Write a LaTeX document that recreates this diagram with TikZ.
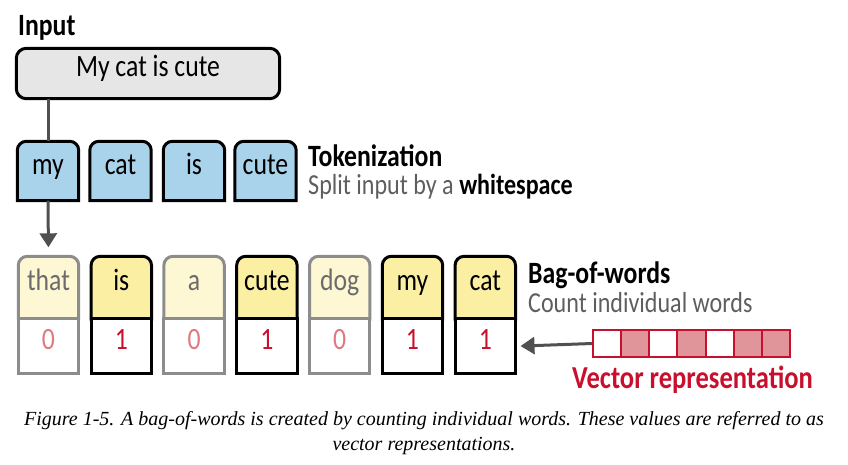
\documentclass[tikz,border=0pt]{standalone}
\usepackage{fontspec}
\setmainfont{Carlito}[FakeStretch=0.83]
\newfontfamily\capfont{Liberation Serif}
\usetikzlibrary{arrows.meta, positioning, backgrounds}

\definecolor{inputgray}{HTML}{E6E6E6}
\definecolor{tokblue}{HTML}{A9D2EB}
\definecolor{bagyellow}{HTML}{FBEFA3}
\definecolor{bagpale}{HTML}{FDF7D3}
\definecolor{zerogray}{HTML}{8C8C8C}
\definecolor{zerotext}{HTML}{6B6B6B}
\definecolor{subgray}{HTML}{5E5E5E}
\definecolor{vecred}{HTML}{C8102E}
\definecolor{zerored}{HTML}{E0797F}
\definecolor{vecpink}{HTML}{E0959B}
\definecolor{arrgray}{HTML}{505050}

\begin{document}
\begin{tikzpicture}[x=1pt, y=-1pt,
  every node/.style={font=\fontsize{31}{36}\selectfont},
  boxtxt/.style={inner sep=0pt, text height=0.64em, text depth=0pt},
  tok/.style={boxtxt, minimum width=61pt, minimum height=59pt},
  word/.style={boxtxt, minimum width=60pt, minimum height=62.5pt},
  cnt/.style={boxtxt, minimum width=60pt, minimum height=54.5pt},
  zero/.style={text=zerotext},
  cell/.style={draw=vecred, line width=2pt, minimum width=28.14pt,
               minimum height=27pt, inner sep=0pt, fill=#1},
  topbox/.style={line width=3pt, draw=#1},
  ttl/.style={anchor=base west, inner sep=0pt, font=\fontsize{31}{36}\selectfont\bfseries},
  sub/.style={anchor=base west, inner sep=0pt, text=subgray, font=\fontsize{29}{34}\selectfont},
  arr/.style={line width=3pt, draw=arrgray, fill=arrgray,
              -{Triangle[length=14pt, width=17pt]}},
]
\useasboundingbox (0,0) rectangle (848,464);

% ── Entrée ───────────────────────────────────────────────────────────
\node[ttl] (ttlinput) at (18, 35) {Input};
\node[boxtxt, minimum width=263pt, minimum height=50pt] (input) at (148, 73.5) {My cat is cute};

% ── Tokens (bleu) ────────────────────────────────────────────────────
\node[tok] (tmy)   at (48,    171) {my};
\node[tok] (tcat)  at (120.5, 171) {cat};
\node[tok] (tis)   at (194,   171) {is};
\node[tok] (tcute) at (265.5, 171) {cute};

\node[ttl] (ttltok) at (308, 166) {Tokenization};
\node[sub] (subtok) at (308, 194) {Split input by a {\color{black}\bfseries whitespace}};

% ── Sac de mots (jaune) ──────────────────────────────────────────────
\node[word, zero] (wthat) at (48.5,  287.75) {that};
\node[word]       (wis)   at (121.3, 287.75) {is};
\node[word, zero] (wa)    at (194.1, 287.75) {a};
\node[word]       (wcute) at (266.9, 287.75) {cute};
\node[word, zero] (wdog)  at (339.7, 287.75) {dog};
\node[word]       (wmy)   at (412.5, 287.75) {my};
\node[word]       (wcat)  at (485.3, 287.75) {cat};

\node[cnt, text=zerored] (cthat) at (48.5,  346.25) {0};
\node[cnt, text=vecred]  (cis)   at (121.3, 346.25) {1};
\node[cnt, text=zerored] (ca)    at (194.1, 346.25) {0};
\node[cnt, text=vecred]  (ccute) at (266.9, 346.25) {1};
\node[cnt, text=zerored] (cdog)  at (339.7, 346.25) {0};
\node[cnt, text=vecred]  (cmy)   at (412.5, 346.25) {1};
\node[cnt, text=vecred]  (ccat)  at (485.3, 346.25) {1};

\node[ttl] (ttlbag) at (528, 283) {Bag-of-words};
\node[sub] (subbag) at (528, 312) {Count individual words};

% ── Vecteur (rouge) ──────────────────────────────────────────────────
\node[cell=white]   (v1) at (607.07, 343.5) {};
\node[cell=vecpink] (v2) at (635.21, 343.5) {};
\node[cell=white]   (v3) at (663.36, 343.5) {};
\node[cell=vecpink] (v4) at (691.50, 343.5) {};
\node[cell=white]   (v5) at (719.64, 343.5) {};
\node[cell=vecpink] (v6) at (747.79, 343.5) {};
\node[cell=vecpink] (v7) at (775.93, 343.5) {};

\node[ttl, text=vecred, font=\fontsize{32}{36}\selectfont\bfseries] (ttlvec) at (572, 388) {Vector representation};

% ── Légende ──────────────────────────────────────────────────────────
\node[anchor=base, font=\capfont\itshape\fontsize{20}{25}\selectfont] (cap1) at (424, 425)
  {Figure 1-5. A bag-of-words is created by counting individual words. These values are referred to as};
\node[anchor=base, font=\capfont\itshape\fontsize{20}{25}\selectfont] (cap2) at (424, 450)
  {vector representations.};

% ── Contours des boîtes ──────────────────────────────────────────────
\begin{scope}[on background layer]
  \filldraw[line width=3pt, fill=inputgray, rounded corners=10pt]
    (input.south west) rectangle (input.north east);
  \foreach \n in {tmy, tcat, tis, tcute}
    \filldraw[topbox=black, fill=tokblue] (\n.south west) [rounded corners=9pt]
      -- (\n.north west) -- (\n.north east) [sharp corners] -- (\n.south east) -- cycle;
  \foreach \n/\c/\d in {wthat/bagpale/zerogray, wis/bagyellow/black, wa/bagpale/zerogray,
                        wcute/bagyellow/black, wdog/bagpale/zerogray, wmy/bagyellow/black,
                        wcat/bagyellow/black}
    \filldraw[topbox=\d, fill=\c] (\n.south west) [rounded corners=9pt]
      -- (\n.north west) -- (\n.north east) [sharp corners] -- (\n.south east) -- cycle;
  \foreach \n/\d in {cthat/zerogray, cis/black, ca/zerogray, ccute/black,
                     cdog/zerogray, cmy/black, ccat/black}
    \filldraw[topbox=\d, fill=white] (\n.north west) rectangle (\n.south east);
\end{scope}

% ── Flèches ──────────────────────────────────────────────────────────
\begin{scope}[on background layer]
  \draw[line width=3pt, arrgray] (input.south -| tmy.north) -- (tmy.north);
\end{scope}
\draw[arr, shorten >=9pt] (tmy.south) -- (wthat.north);
\draw[arr, shorten >=5pt] (v1.west) -- (ccat.east);

\end{tikzpicture}
\end{document}
